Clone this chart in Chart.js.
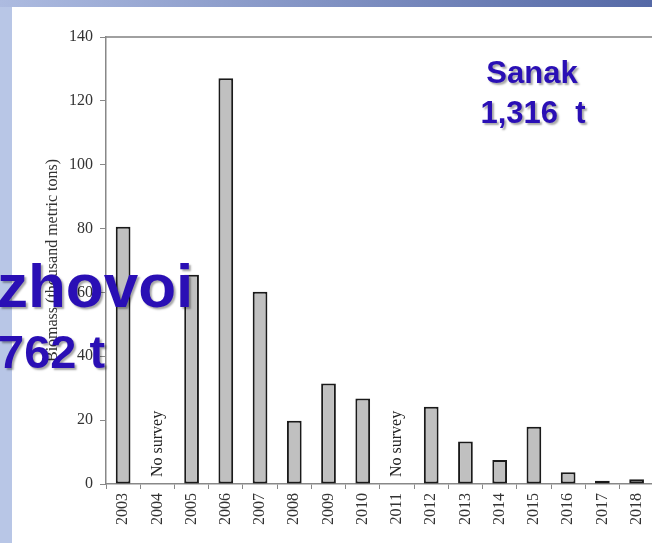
<!DOCTYPE html>
<html>
<head>
<meta charset="utf-8">
<script src="https://cdn.jsdelivr.net/npm/chart.js@4/dist/chart.umd.min.js"></script>
<style>
    body { margin: 0; width: 652px; height: 543px; overflow: hidden; background: #fff; position: relative; }
    #topBand { position: absolute; left: 0; top: 0; width: 652px; height: 7px; background: linear-gradient(to right, #adbbe0, #5569a6); }
    #leftBand { position: absolute; left: 0; top: 7px; width: 12px; height: 536px; background: #b8c6e6; }
    #chartCanvas { position: absolute; left: 0; top: 0; }
    .stamp {
        position: absolute; font-family: "Liberation Sans", Arial, sans-serif; font-weight: bold;
        color: #2a0fb5; line-height: 1; white-space: pre; text-shadow: 2px 2px 2px rgba(0,0,0,0.35);
    }
</style>
</head>
<body>
<div id="topBand"></div>
<div id="leftBand"></div>
<canvas id="chartCanvas" width="660" height="543"></canvas>
<div class="stamp" style="left:485px; top:57px; width:94px; text-align:center; font-size:31px;">Sanak</div>
<div class="stamp" style="left:473px; top:97px; width:120px; text-align:center; font-size:31px;">1,316  t</div>
<div class="stamp" style="left:-3px; top:255px; font-size:62px;">zhovoi</div>
<div class="stamp" style="left:-2px; top:328px; font-size:47px;">762 t</div>

<script>
// Survey years and biomass (thousand metric tons); null = no survey
const years = ['2003', '2004', '2005', '2006', '2007', '2008', '2009', '2010',
               '2011', '2012', '2013', '2014', '2015', '2016', '2017', '2018'];
const biomass = [80.6, null, 65.5, 127.1, 60.2, 19.8, 31.5, 26.8,
                 null, 24.2, 13.3, 7.5, 17.9, 3.7, 1.0, 1.5];
const yTicks = [0, 20, 40, 60, 80, 100, 120, 140];
const noSurveyText = 'No survey';

const serif = '"Liberation Serif", "Times New Roman", serif';

// Writes "No survey" above the axis where a year has no value
const noSurveyPlugin = {
    id: 'noSurvey',
    afterDatasetsDraw(chart) {
        const ctx = chart.ctx;
        const xScale = chart.scales.x;
        const yScale = chart.scales.y;
        biomass.forEach((v, i) => {
            if (v !== null) return;
            ctx.save();
            ctx.translate(xScale.getPixelForValue(i), yScale.getPixelForValue(0) - 7);
            ctx.rotate(-Math.PI / 2);
            ctx.font = '16px ' + serif;
            ctx.fillStyle = '#222';
            ctx.textAlign = 'left';
            ctx.textBaseline = 'middle';
            ctx.fillText(noSurveyText, 0, 0);
            ctx.restore();
        });
    }
};

const ctx = document.getElementById('chartCanvas').getContext('2d');
new Chart(ctx, {
    type: 'bar',
    data: {
        labels: years,
        datasets: [{
            label: 'Biomass',
            data: biomass,
            backgroundColor: '#c0c0c0',
            borderColor: '#1a1a1a',
            borderWidth: 2,
            borderSkipped: false,
            barPercentage: 0.43,
            categoryPercentage: 1
        }]
    },
    options: {
        responsive: false,
        animation: false,
        layout: { padding: { left: 0, right: 6, top: 37, bottom: 0 } },
        plugins: { legend: { display: false }, tooltip: { enabled: false } },
        scales: {
            x: {
                ticks: {
                    minRotation: 90, maxRotation: 90, autoSkip: false, padding: 4,
                    color: '#333', font: { family: serif, size: 16 }
                },
                grid: { drawOnChartArea: false, drawTicks: true, tickLength: 5, color: '#888' },
                border: { color: '#888', width: 1.5 },
                afterFit(scale) { scale.height = 59; }
            },
            x2: {
                position: 'top',
                ticks: { display: false },
                grid: { drawOnChartArea: false, drawTicks: false },
                border: { color: '#a0a0a0', width: 2 },
                afterFit(scale) { scale.height = 0; }
            },
            y: {
                min: 0,
                max: 140,
                afterBuildTicks(scale) { scale.ticks = yTicks.map(v => ({ value: v })); },
                ticks: { padding: 7, color: '#333', font: { family: serif, size: 16 } },
                grid: { drawOnChartArea: false, drawTicks: true, tickLength: 6, color: '#888' },
                border: { color: '#888', width: 1.5 },
                title: {
                    display: true,
                    text: 'Biomass (thousand metric tons)',
                    color: '#333',
                    font: { family: serif, size: 16 },
                    padding: { top: 43, bottom: 0 }
                },
                afterFit(scale) { scale.width = 106; }
            }
        }
    },
    plugins: [noSurveyPlugin]
});
</script>
</body>
</html>
